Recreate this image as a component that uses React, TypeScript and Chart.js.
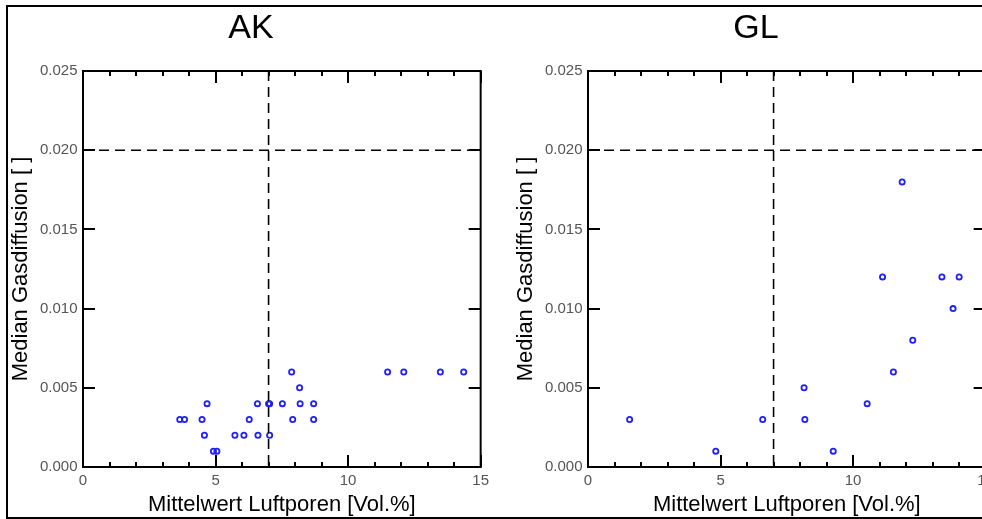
import React, { useEffect, useRef } from "react";
import { Chart, registerables } from "chart.js";

Chart.register(...registerables);

// ---- data ----
const panelTitles = ["AK", "GL"];

const akX = [3.65, 3.83, 4.49, 4.68, 4.58, 4.92, 5.05, 5.73, 6.07, 6.27, 6.58, 6.6, 7.0, 7.04, 7.04, 7.52, 7.87, 7.91, 8.17, 8.19, 8.7, 8.7, 11.49, 12.1, 13.48, 14.36];
const akY = [0.003, 0.003, 0.003, 0.004, 0.002, 0.001, 0.001, 0.002, 0.002, 0.003, 0.004, 0.002, 0.004, 0.004, 0.002, 0.004, 0.006, 0.003, 0.005, 0.004, 0.004, 0.003, 0.006, 0.006, 0.006, 0.006];

const glX = [1.57, 4.82, 6.59, 8.15, 8.18, 9.25, 10.53, 11.11, 11.52, 11.85, 12.25, 13.35, 13.77, 14.0];
const glY = [0.003, 0.001, 0.003, 0.005, 0.003, 0.001, 0.004, 0.012, 0.006, 0.018, 0.008, 0.012, 0.01, 0.012];

const xMin = 0;
const xMax = 15;
const xMajorStep = 5;
const xMinorStep = 1;
const yMin = 0;
const yMax = 0.025;
const yMajorStep = 0.005;

const refX = 7;
const refY = 0.02;

const xTitle = "Mittelwert Luftporen [Vol.%]";
const yTitle = "Median Gasdiffusion [ ]";

const FONT = "'Liberation Sans', Arial, Helvetica, sans-serif";

const frameTicks = {
  id: "frameTicks",
  afterDatasetsDraw(chart: any) {
    const { ctx, chartArea: a, scales } = chart;
    const xs = scales.x;
    const ys = scales.y;
    ctx.save();
    ctx.strokeStyle = "#000";
    ctx.lineWidth = 2;
    ctx.beginPath();
    const nx = Math.round((xMax - xMin) / xMinorStep);
    const perMajor = Math.round(xMajorStep / xMinorStep);
    for (let i = 0; i <= nx; i++) {
      const v = xMin + i * xMinorStep;
      const px = Math.round(xs.getPixelForValue(v));
      const len = i % perMajor === 0 ? 12 : 5;
      ctx.moveTo(px, a.bottom);
      ctx.lineTo(px, a.bottom - len);
      ctx.moveTo(px, a.top);
      ctx.lineTo(px, a.top + len);
    }
    const ny = Math.round((yMax - yMin) / yMajorStep);
    for (let i = 0; i <= ny; i++) {
      const v = yMin + i * yMajorStep;
      const py = Math.round(ys.getPixelForValue(v));
      ctx.moveTo(a.left, py);
      ctx.lineTo(a.left + 12, py);
      ctx.moveTo(a.right, py);
      ctx.lineTo(a.right - 12, py);
    }
    ctx.stroke();
    ctx.strokeRect(a.left, a.top, a.right - a.left, a.bottom - a.top);
    ctx.restore();
  },
};

function Panel({ title, xs, ys, left }: { title: string; xs: number[]; ys: number[]; left: number }) {
  const ref = useRef<HTMLCanvasElement>(null);
  useEffect(() => {
    const canvas = ref.current;
    if (!canvas) return;
    const points = xs.map((x, i) => ({ x, y: ys[i] }));
    const chart = new Chart(canvas, {
      type: "scatter",
      data: {
        datasets: [
          {
            label: "h",
            data: [
              { x: xMin, y: refY },
              { x: xMax, y: refY },
            ],
            showLine: true,
            borderColor: "#000",
            borderWidth: 1.6,
            borderDash: [10, 6],
            pointRadius: 0,
            fill: false,
          },
          {
            label: "v",
            data: [
              { x: refX, y: yMax },
              { x: refX, y: yMin },
            ],
            showLine: true,
            borderColor: "#000",
            borderWidth: 1.6,
            borderDash: [10, 6],
            pointRadius: 0,
            fill: false,
          },
          {
            label: title,
            data: points,
            pointStyle: "circle",
            pointRadius: 2.6,
            pointBorderWidth: 1.8,
            borderColor: "#2020ff",
            backgroundColor: "rgba(255,255,255,0)",
          },
        ],
      },
      options: {
        animation: false,
        responsive: false,
        events: [],
        layout: { padding: 0, autoPadding: false },
        plugins: {
          legend: { display: false },
          tooltip: { enabled: false },
          title: {
            display: true,
            text: title,
            color: "#000",
            font: { family: FONT, size: 34, weight: "normal" },
            padding: { top: 8.5, bottom: 21.7 },
          },
        },
        scales: {
          x: {
            type: "linear",
            position: "bottom",
            min: xMin,
            max: xMax,
            grid: { display: false, drawTicks: false },
            border: { display: false },
            ticks: {
              stepSize: xMajorStep,
              color: "#555",
              padding: 5,
              font: { family: FONT, size: 15 },
              maxRotation: 0,
            },
            title: {
              display: true,
              text: xTitle,
              color: "#000",
              font: { family: FONT, size: 22 },
              padding: { top: 0, bottom: 1 },
            },
            afterFit: (s: any) => {
              s.height = 52;
            },
          },
          y: {
            type: "linear",
            position: "left",
            min: yMin,
            max: yMax,
            grid: { display: false, drawTicks: false },
            border: { display: false },
            ticks: {
              stepSize: yMajorStep,
              color: "#555",
              padding: 5.5,
              font: { family: FONT, size: 15 },
              callback: (v: any) => Number(v).toFixed(3),
            },
            title: {
              display: true,
              text: yTitle,
              color: "#000",
              font: { family: FONT, size: 22 },
              padding: { top: 0, bottom: 0 },
            },
            afterFit: (s: any) => {
              s.width = 75;
            },
          },
          y2: {
            type: "linear",
            position: "right",
            display: true,
            grid: { display: false, drawTicks: false },
            border: { display: false },
            ticks: { display: false },
            afterFit: (s: any) => {
              s.width = 13;
            },
          },
        },
      },
      plugins: [frameTicks],
    } as any);
    return () => chart.destroy();
  }, [title, xs, ys]);
  return (
    <canvas
      ref={ref}
      width={486}
      height={519}
      style={{ position: "absolute", left, top: 0, width: 486, height: 519 }}
    />
  );
}

export default function App() {
  return (
    <div
      style={{
        position: "fixed",
        left: 0,
        top: 0,
        width: 982,
        height: 519,
        overflow: "hidden",
        background: "#fff",
      }}
    >
      <div
        style={{
          position: "absolute",
          left: 6,
          top: 5,
          width: 1100,
          height: 514,
          border: "2px solid #000",
          boxSizing: "border-box",
        }}
      />
      <Panel title={panelTitles[0]} xs={akX} ys={akY} left={8} />
      <Panel title={panelTitles[1]} xs={glX} ys={glY} left={513} />
    </div>
  );
}
